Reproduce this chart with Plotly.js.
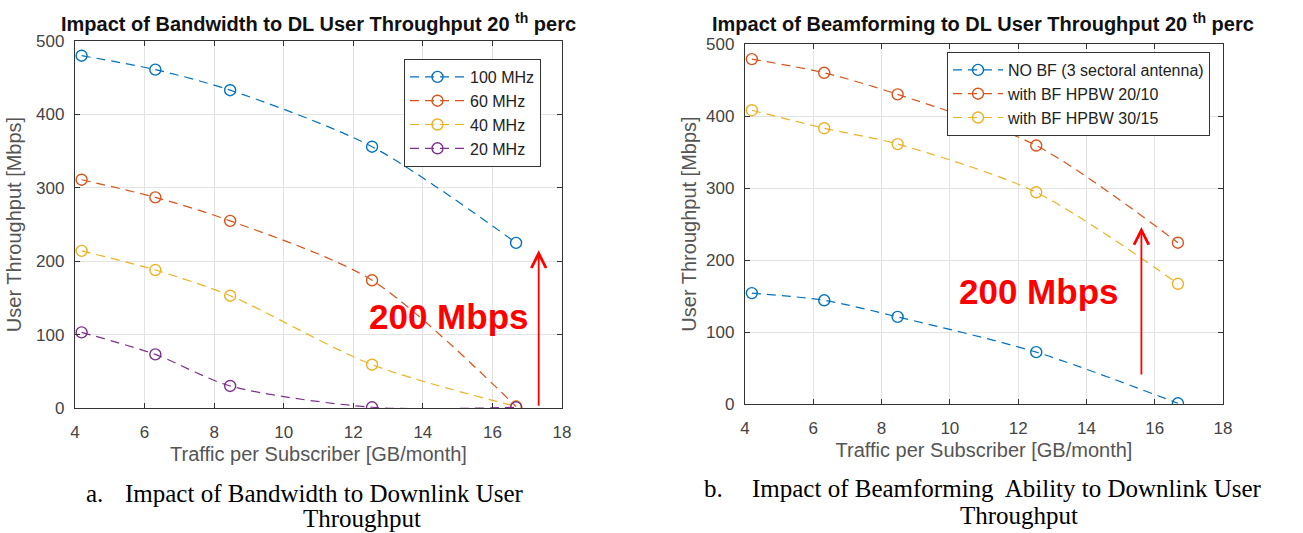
<!DOCTYPE html>
<html>
<head>
<meta charset="utf-8">
<script src="https://cdn.plot.ly/plotly-3.0.1.min.js"></script>
<style>html,body{margin:0;padding:0;background:#fff;}#chart{width:1303px;height:533px;}</style>
</head>
<body>
<div id="chart"></div>
<script>
// ---- data ----
const trafficA = [4.19, 6.31, 8.46, 12.54, 16.68];
const bw100 = [480, 461, 433, 356, 225];
const bw60  = [311, 287, 255, 174, 2];
const bw40  = [214, 188, 153, 59, 2];
const bw20  = [103, 73, 30, 1, 1];
const bwNames = ['100 MHz', '60 MHz', '40 MHz', '20 MHz'];

const trafficB = [4.2, 6.32, 8.47, 12.53, 16.68];
const noBF   = [154, 144, 121, 72, 1];
const bf2010 = [479, 460, 430, 359, 224];
const bf3015 = [408, 383, 361, 294, 167];
const bfNames = ['NO BF (3 sectoral antenna)', 'with BF HPBW 20/10', 'with BF HPBW 30/15'];

const xTicks = [4, 6, 8, 10, 12, 14, 16, 18];
const yTicks = [0, 100, 200, 300, 400, 500];

const titleA = 'Impact of Bandwidth to DL User Throughput 20 <sup>th</sup> perc';
const titleB = 'Impact of Beamforming to DL User Throughput 20 <sup>th</sup> perc';
const xTitle = 'Traffic per Subscriber [GB/month]';
const yTitle = 'User Throughput [Mbps]';
const labelA = 'a.';
const captionA1 = 'Impact of Bandwidth to Downlink User';
const captionA2 = 'Throughput';
const labelB = 'b.';
const captionB1 = 'Impact of Beamforming&nbsp; Ability to Downlink User';
const captionB2 = 'Throughput';
const noteText = '200 Mbps';
// arrow positions (data coords): [x, yTail, yTip]
const arrowA = [17.33, 1, 215];
const arrowB = [15.61, 39, 246];
const noteA = [14.76, 124];
const noteB = [12.6, 156];

// ---- style ----
const C = ['#0072BD', '#D95319', '#EDB120', '#7E2F8E'];
const W = 1303, H = 533;
const px = v => v / W;
const py = v => 1 - v / H;
const SANS = 'Liberation Sans, Arial, sans-serif';
const SERIF = 'Liberation Serif, Times New Roman, serif';

function tr(x, y, name, color, xa, ya, leg) {
  return {
    x: x, y: y, name: name, type: 'scatter', mode: 'lines+markers',
    xaxis: xa, yaxis: ya, legend: leg,
    line: {color: color, width: 1.2, dash: '9px,6px', shape: 'spline', smoothing: 0.8},
    marker: {symbol: 'circle-open', size: 11, color: color, line: {width: 1.4, color: color}}
  };
}

const traces = [
  tr(trafficA, bw100, bwNames[0], C[0], 'x', 'y', 'legend'),
  tr(trafficA, bw60,  bwNames[1], C[1], 'x', 'y', 'legend'),
  tr(trafficA, bw40,  bwNames[2], C[2], 'x', 'y', 'legend'),
  tr(trafficA, bw20,  bwNames[3], C[3], 'x', 'y', 'legend'),
  tr(trafficB, noBF,   bfNames[0], C[0], 'x2', 'y2', 'legend2'),
  tr(trafficB, bf2010, bfNames[1], C[1], 'x2', 'y2', 'legend2'),
  tr(trafficB, bf3015, bfNames[2], C[2], 'x2', 'y2', 'legend2')
];

const tickFont = {family: SANS, size: 17, color: '#444'};
const axTitleFont = {family: SANS, size: 20, color: '#555'};
function xax(dom, anchor) {
  return {
    domain: dom, anchor: anchor, range: [4, 18], tickvals: xTicks,
    showgrid: true, gridcolor: '#e3e3e3', gridwidth: 1,
    showline: true, linecolor: '#333', linewidth: 1.2, mirror: 'ticks',
    ticks: 'inside', ticklen: 5, tickcolor: '#333', tickwidth: 1,
    zeroline: false, tickfont: tickFont, ticklabelstandoff: 8,
    title: {text: xTitle, font: axTitleFont, standoff: 6},
    automargin: false, fixedrange: true
  };
}
function yax(dom, anchor, standoff) {
  return {
    domain: dom, anchor: anchor, range: [0, 500], tickvals: yTicks,
    showgrid: true, gridcolor: '#e3e3e3', gridwidth: 1,
    showline: true, linecolor: '#333', linewidth: 1.2, mirror: 'ticks',
    ticks: 'inside', ticklen: 5, tickcolor: '#333', tickwidth: 1,
    zeroline: false, tickfont: tickFont, ticklabelstandoff: 6,
    title: {text: yTitle, font: axTitleFont, standoff: standoff},
    automargin: false, fixedrange: true
  };
}

const legFont = {family: SANS, size: 16, color: '#222'};
const capFont = {family: SERIF, size: 25, color: '#000'};
const ttlFont = {family: SANS, size: 20, color: '#111'};
const noteFont = {family: SANS, size: 35, color: '#ff0000'};

function ann(x, y, text, font, xanchor) {
  return {xref: 'paper', yref: 'paper', x: px(x), y: py(y), text: text, showarrow: false,
          font: font, xanchor: xanchor || 'center', yanchor: 'middle'};
}

const layout = {
  width: W, height: H,
  margin: {l: 0, r: 0, t: 0, b: 0},
  paper_bgcolor: '#fff', plot_bgcolor: '#fff',
  showlegend: true,
  xaxis: xax([px(75), px(562)], 'y'),
  yaxis: yax([py(408), py(41)], 'x', 9),
  xaxis2: xax([px(745), px(1223)], 'y2'),
  yaxis2: yax([py(404), py(44)], 'x2', 4),
  legend: {x: px(404), y: py(59), xanchor: 'left', yanchor: 'top', bgcolor: '#fff',
           bordercolor: '#333', borderwidth: 1, font: legFont, itemwidth: 55, tracegroupgap: 0},
  legend2: {x: px(947), y: py(52), xanchor: 'left', yanchor: 'top', bgcolor: '#fff',
            bordercolor: '#333', borderwidth: 1, font: legFont, itemwidth: 50, tracegroupgap: 0},
  annotations: [
    ann(318, 22, '<b>' + titleA + '</b>', ttlFont),
    ann(983, 23, '<b>' + titleB + '</b>', ttlFont),
    ann(84, 493, labelA, capFont, 'left'),
    ann(123, 493, captionA1, capFont, 'left'),
    ann(362, 518, captionA2, capFont),
    ann(702, 488, labelB, capFont, 'left'),
    ann(750, 488, captionB1, capFont, 'left'),
    ann(1019, 515, captionB2, capFont),
    {xref: 'x', yref: 'y', x: noteA[0], y: noteA[1], text: '<b>' + noteText + '</b>', showarrow: false, font: noteFont},
    {xref: 'x2', yref: 'y2', x: noteB[0], y: noteB[1], text: '<b>' + noteText + '</b>', showarrow: false, font: noteFont},
    {xref: 'x', yref: 'y', axref: 'x', ayref: 'y', x: arrowA[0], y: arrowA[2], ax: arrowA[0], ay: arrowA[1],
     text: '', showarrow: true, arrowhead: 5, arrowsize: 1.6, arrowwidth: 1.8, arrowcolor: '#ff0000'},
    {xref: 'x2', yref: 'y2', axref: 'x2', ayref: 'y2', x: arrowB[0], y: arrowB[2], ax: arrowB[0], ay: arrowB[1],
     text: '', showarrow: true, arrowhead: 5, arrowsize: 1.6, arrowwidth: 1.8, arrowcolor: '#ff0000'}
  ]
};

Plotly.newPlot('chart', traces, layout, {staticPlot: true, displayModeBar: false});
</script>
</body>
</html>
